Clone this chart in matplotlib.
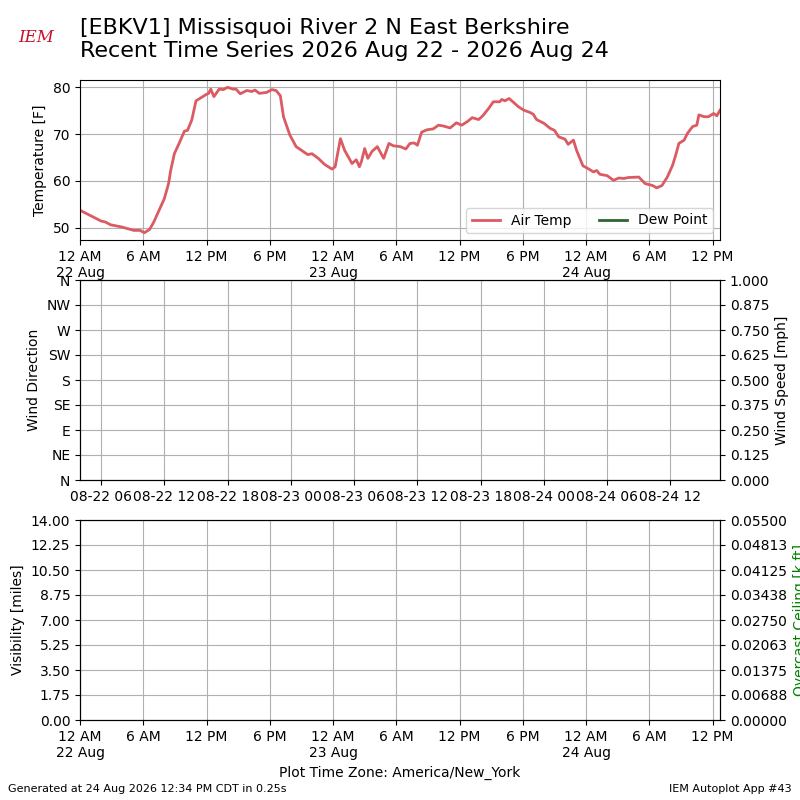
#!/usr/bin/env python3

"""
plot.py

Recent time series for station EBKV1, redrawn from the IEM autoplot
"""

from datetime import datetime, timedelta

import numpy as np
import matplotlib
matplotlib.use('Agg')
import matplotlib.pyplot as plt
import matplotlib.dates as mdates
from matplotlib.ticker import FuncFormatter, FormatStrFormatter

# hours after 22 Aug 2026 00:00 (America/New_York)
hours = [0.0, 0.86, 2.0, 2.4, 2.9, 4.0, 5.1, 5.7, 6.1, 6.6, 7.0, 7.5, 8.0,
         8.4, 8.6, 8.95, 9.4, 9.9, 10.2, 10.6, 11.0, 11.5, 12.0, 12.2, 12.4,
         12.7, 13.2, 13.6, 14.0, 14.5, 14.8, 15.2, 15.8, 16.3, 16.6, 17.0,
         17.7, 18.2, 18.6, 19.0, 19.3, 19.9, 20.5, 21.2, 21.6, 22.0, 22.6,
         23.2, 23.9, 24.2, 24.7, 25.1, 25.8, 26.2, 26.5, 26.7, 27.0, 27.3,
         27.7, 28.2, 28.8, 29.3, 29.7, 30.4, 30.9, 31.3, 31.7, 32.0, 32.4,
         32.9, 33.5, 34.0, 34.5, 35.1, 35.7, 36.2, 36.7, 37.2, 37.8, 38.2,
         38.8, 39.2, 39.8, 40.0, 40.3, 40.7, 41.1, 41.6, 42.1, 42.7, 43.0,
         43.3, 44.0, 44.6, 45.0, 45.4, 46.0, 46.3, 46.8, 47.1, 47.7, 48.2,
         48.7, 49.0, 49.3, 50.0, 50.6, 51.1, 51.6, 52.0, 53.0, 53.6, 54.3,
         54.7, 55.2, 55.7, 56.2, 56.5, 56.8, 57.3, 57.6, 58.1, 58.5, 58.7,
         59.2, 59.6, 60.1, 60.4, 60.7]
air_temp = [53.7, 52.7, 51.4, 51.2, 50.6, 50.1, 49.4, 49.4, 48.9, 49.6, 51.2,
            53.7, 56.2, 59.4, 62.2, 65.8, 68.0, 70.6, 70.8, 73.0, 77.1, 77.8,
            78.5, 78.7, 79.6, 78.0, 79.6, 79.5, 80.0, 79.6, 79.6, 78.6, 79.3,
            79.1, 79.4, 78.7, 78.9, 79.5, 79.3, 78.2, 73.7, 69.8, 67.3, 66.2,
            65.6, 65.8, 64.8, 63.5, 62.5, 63.0, 69.0, 66.5, 63.7, 64.5, 63.0,
            64.2, 66.9, 64.8, 66.3, 67.3, 64.8, 68.0, 67.5, 67.3, 66.8, 68.0,
            68.1, 67.6, 70.4, 70.9, 71.1, 71.9, 71.7, 71.3, 72.4, 71.9, 72.6,
            73.5, 73.1, 73.9, 75.6, 76.9, 76.9, 77.4, 77.1, 77.6, 76.8, 75.8,
            75.1, 74.6, 74.2, 73.1, 72.3, 71.2, 70.8, 69.4, 68.9, 67.8, 68.7,
            66.5, 63.2, 62.6, 61.9, 62.2, 61.4, 61.1, 60.1, 60.6, 60.5, 60.7,
            60.8, 59.4, 59.0, 58.5, 59.0, 60.8, 63.3, 65.5, 68.0, 68.7, 70.1,
            71.6, 71.9, 74.1, 73.7, 73.7, 74.4, 73.9, 75.1]

compass = ['N', 'NE', 'E', 'SE', 'S', 'SW', 'W', 'NW', 'N']

start = datetime(2026, 8, 22)
utc_offset = timedelta(hours=4)


def local_label(x, pos=None):
    """12 AM / 6 AM style labels, with the date under midnight"""
    dt = mdates.num2date(x)
    text = dt.strftime('%I %p').lstrip('0')
    if dt.hour == 0:
        text += '\n' + dt.strftime('%d %b')
    return text


def main():
    times = [start + timedelta(hours=h) for h in hours]
    tmin, tmax = times[0], times[-1]

    fig = plt.figure(figsize=(8, 8), dpi=100)

    # temperature
    ax1 = fig.add_axes([0.1, 0.70, 0.8, 0.20])
    ax1.plot(times, air_temp, color='#dc5a62', lw=2, label='Air Temp')
    ax1.plot([], [], color='#2e6630', lw=2, label='Dew Point')
    ax1.set_xlim(tmin, tmax)
    ax1.xaxis.set_major_locator(mdates.HourLocator(byhour=[0, 6, 12, 18]))
    ax1.xaxis.set_major_formatter(FuncFormatter(local_label))
    ax1.set_ylabel('Temperature [F]')
    ax1.grid(True)
    ax1.legend(loc='lower right', ncol=2)

    # wind (axis left in UTC, as in the source)
    ax2 = fig.add_axes([0.1, 0.40, 0.8, 0.25])
    ax2.set_xlim(tmin + utc_offset, tmax + utc_offset)
    ax2.xaxis.set_major_locator(mdates.HourLocator(byhour=[0, 6, 12, 18]))
    ax2.xaxis.set_major_formatter(mdates.DateFormatter('%m-%d %H'))
    ax2.set_ylim(0, 360)
    ax2.set_yticks(np.arange(0, 361, 45))
    ax2.set_yticklabels(compass)
    ax2.set_ylabel('Wind Direction')
    ax2.grid(True)
    ax2b = ax2.twinx()
    ax2b.set_ylim(0, 1)
    ax2b.set_yticks(np.linspace(0, 1, 9))
    ax2b.yaxis.set_major_formatter(FormatStrFormatter('%.3f'))
    ax2b.set_ylabel('Wind Speed [mph]')

    # visibility / ceiling
    ax3 = fig.add_axes([0.1, 0.10, 0.8, 0.25])
    ax3.set_xlim(tmin, tmax)
    ax3.xaxis.set_major_locator(mdates.HourLocator(byhour=[0, 6, 12, 18]))
    ax3.xaxis.set_major_formatter(FuncFormatter(local_label))
    ax3.set_ylim(0, 14)
    ax3.set_yticks(np.linspace(0, 14, 9))
    ax3.yaxis.set_major_formatter(FormatStrFormatter('%.2f'))
    ax3.set_ylabel('Visibility [miles]')
    ax3.grid(True)
    ax3b = ax3.twinx()
    ax3b.set_ylim(0, 0.055)
    ax3b.set_yticks(np.linspace(0, 0.055, 9))
    ax3b.yaxis.set_major_formatter(FormatStrFormatter('%.5f'))
    ax3b.set_ylabel('Overcast Ceiling [k ft]', color='g')
    ax3.set_xlabel('Plot Time Zone: America/New_York')

    fig.text(0.1, 0.978,
             '[EBKV1] Missisquoi River 2 N East Berkshire\n'
             'Recent Time Series 2026 Aug 22 - 2026 Aug 24',
             fontsize=16, va='top', ha='left')
    # logo stand-in
    fig.text(0.045, 0.953, 'IEM', color='#c8102e', fontsize=12,
             family='serif', style='italic', ha='center', va='center')
    fig.text(0.01, 0.01, 'Generated at 24 Aug 2026 12:34 PM CDT in 0.25s',
             fontsize=8)
    fig.text(0.99, 0.01, 'IEM Autoplot App #43', fontsize=8, ha='right')

    fig.savefig('out.png', dpi=100)


if __name__ == '__main__':
    main()
